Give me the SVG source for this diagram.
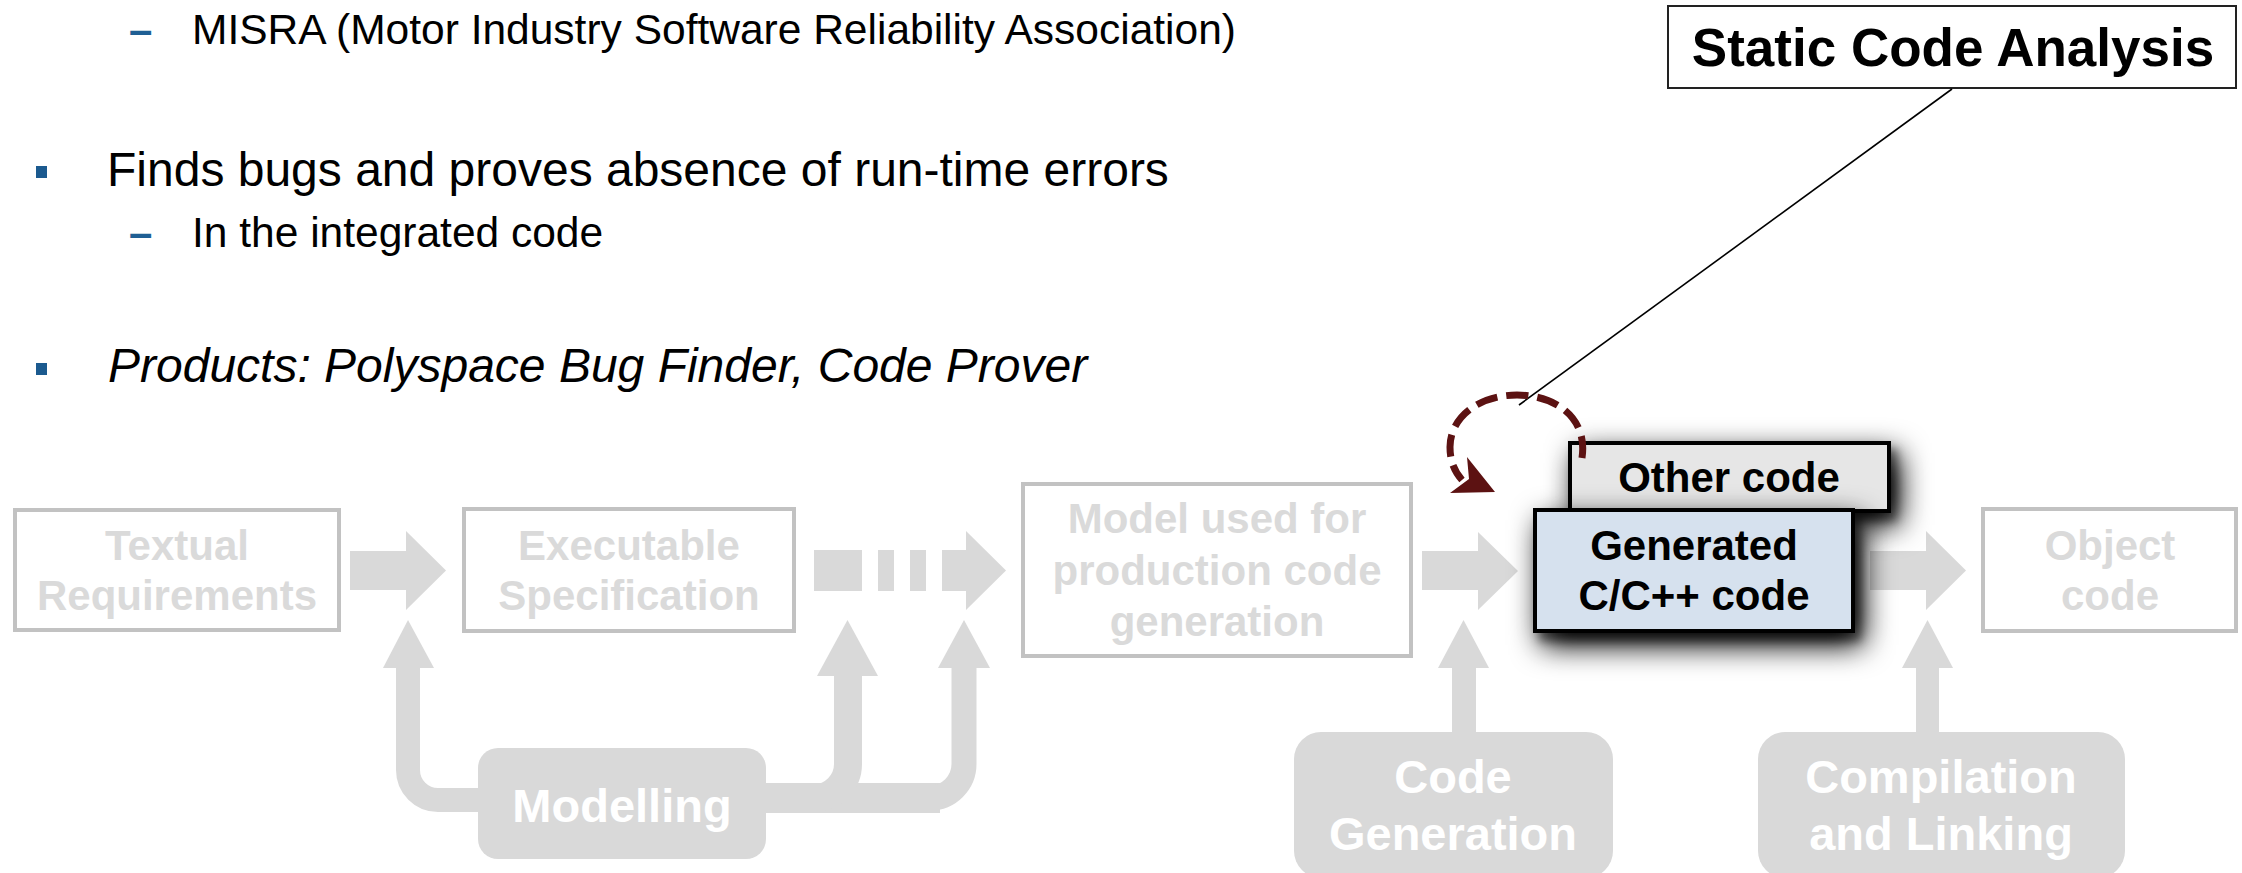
<svg xmlns="http://www.w3.org/2000/svg" width="2242" height="873" viewBox="0 0 2242 873">
  <defs>
    <style>
      .txt { font-family: "Liberation Sans", Arial, sans-serif; fill: #000; }
      .dash { font-family: "Liberation Sans", Arial, sans-serif; fill: #1f5f94; font-size: 42px; font-weight: bold; }
      .bul { fill: #1b5a8f; }
      .gbox { fill: #fff; stroke: #c2c2c2; stroke-width: 4; }
      .gtxt { font-family: "Liberation Sans", Arial, sans-serif; font-weight: bold; font-size: 42px; fill: #dadada; text-anchor: middle; }
      .fbox { fill: #d9d9d9; }
      .wtxt { font-family: "Liberation Sans", Arial, sans-serif; font-weight: bold; font-size: 47px; fill: #fff; text-anchor: middle; }
      .btxt { font-family: "Liberation Sans", Arial, sans-serif; font-weight: bold; font-size: 42px; fill: #000; text-anchor: middle; }
      .arw { fill: #d9d9d9; }
      .band { fill: none; stroke: #d9d9d9; }
    </style>
    <!-- soft drop shadow for the highlighted code boxes -->
    <filter id="shadow" x="-40%" y="-80%" width="190%" height="280%">
      <feGaussianBlur in="SourceAlpha" stdDeviation="15" result="wide"/>
      <feOffset in="wide" dx="8" dy="12" result="wideOff"/>
      <feComponentTransfer in="wideOff" result="wideA"><feFuncA type="linear" slope="1.1"/></feComponentTransfer>
      <feGaussianBlur in="SourceAlpha" stdDeviation="5" result="near"/>
      <feOffset in="near" dx="6" dy="8" result="nearOff"/>
      <feComponentTransfer in="nearOff" result="nearA"><feFuncA type="linear" slope="0.45"/></feComponentTransfer>
      <feMerge><feMergeNode in="wideA"/><feMergeNode in="nearA"/><feMergeNode in="SourceGraphic"/></feMerge>
    </filter>
  </defs>

  <!-- bullet text -->
  <g id="bullets">
    <text class="dash" x="129" y="44">–</text>
    <text class="txt" x="192" y="44" font-size="42.5">MISRA (Motor Industry Software Reliability Association)</text>
    <rect class="bul" x="36" y="166" width="11" height="12"/>
    <text class="txt" x="107" y="186" font-size="48">Finds bugs and proves absence of run-time errors</text>
    <text class="dash" x="129" y="247">–</text>
    <text class="txt" x="192" y="247" font-size="42.5">In the integrated code</text>
    <rect class="bul" x="36" y="363" width="11" height="12"/>
    <text class="txt" x="108" y="382" font-size="48" font-style="italic">Products: Polyspace Bug Finder, Code Prover</text>
  </g>

  <!-- connectors -->
  <g id="connectors">
    <!-- horizontal flow arrows -->
    <polygon class="arw" points="350,551 406,551 406,531 446,570.5 406,610 406,590 350,590"/>
    <rect class="arw" x="814" y="550" width="48" height="41"/>
    <rect class="arw" x="878" y="550" width="16" height="41"/>
    <rect class="arw" x="910" y="550" width="16" height="41"/>
    <polygon class="arw" points="942,550 966,550 966,531 1006,570.5 966,610 966,591 942,591"/>
    <polygon class="arw" points="1422,551 1478,551 1478,532 1518,571 1478,610 1478,590 1422,590"/>
    <polygon class="arw" points="1870,551 1926,551 1926,531 1966,570.5 1926,610 1926,590 1870,590"/>

    <!-- modelling feedback arrows -->
    <path class="band" stroke-width="24" d="M 480 800 H 438 A 30 30 0 0 1 408 770 V 660"/>
    <polygon class="arw" points="408,620 434,668 383,668"/>
    <path class="band" stroke-width="30" d="M 764 798 H 940"/>
    <path class="band" stroke-width="28" d="M 790 798 H 814 A 34 34 0 0 0 848 764 V 670"/>
    <polygon class="arw" points="847.5,620 878,676 817,676"/>
    <path class="band" stroke-width="25" d="M 920 798 H 930 A 34 34 0 0 0 964 764 V 662"/>
    <polygon class="arw" points="964,620 990,668 938,668"/>

    <!-- code generation / compilation arrows -->
    <rect class="arw" x="1452" y="660" width="24" height="76"/>
    <polygon class="arw" points="1463.5,620 1489,668 1438,668"/>
    <rect class="arw" x="1916" y="660" width="23" height="76"/>
    <polygon class="arw" points="1927.5,620 1953,668 1902,668"/>
  </g>

  <!-- pipeline boxes -->
  <g id="textual-requirements">
    <rect class="gbox" x="15" y="510" width="324" height="120"/>
    <text class="gtxt" x="177" y="560">Textual</text>
    <text class="gtxt" x="177" y="610">Requirements</text>
  </g>
  <g id="executable-specification">
    <rect class="gbox" x="464" y="509" width="330" height="122"/>
    <text class="gtxt" x="629" y="560">Executable</text>
    <text class="gtxt" x="629" y="610">Specification</text>
  </g>
  <g id="production-model">
    <rect class="gbox" x="1023" y="484" width="388" height="172"/>
    <text class="gtxt" x="1217" y="533">Model used for</text>
    <text class="gtxt" x="1217" y="585">production code</text>
    <text class="gtxt" x="1217" y="636">generation</text>
  </g>
  <g id="object-code">
    <rect class="gbox" x="1983" y="509" width="253" height="122"/>
    <text class="gtxt" x="2110" y="560">Object</text>
    <text class="gtxt" x="2110" y="610">code</text>
  </g>

  <g id="modelling">
    <rect class="fbox" x="478" y="748" width="288" height="111" rx="20"/>
    <text class="wtxt" x="622" y="822">Modelling</text>
  </g>
  <g id="code-generation">
    <rect class="fbox" x="1294" y="732" width="319" height="146" rx="27"/>
    <text class="wtxt" x="1453" y="793">Code</text>
    <text class="wtxt" x="1453" y="850">Generation</text>
  </g>
  <g id="compilation-linking">
    <rect class="fbox" x="1758" y="732" width="367" height="146" rx="27"/>
    <text class="wtxt" x="1941" y="793">Compilation</text>
    <text class="wtxt" x="1941" y="850">and Linking</text>
  </g>

  <g id="other-code">
    <rect x="1570" y="443" width="319" height="68" fill="#e6e6e6" stroke="#000" stroke-width="4" filter="url(#shadow)"/>
    <text class="btxt" x="1729" y="492">Other code</text>
  </g>
  <g id="generated-code">
    <rect x="1535" y="510" width="318" height="121" fill="#d6e1ee" stroke="#000" stroke-width="4" filter="url(#shadow)"/>
    <text class="btxt" x="1694" y="560">Generated</text>
    <text class="btxt" x="1694" y="610">C/C++ code</text>
  </g>

  <!-- static analysis callout -->
  <g id="static-code-analysis">
    <rect x="1668" y="6" width="568" height="82" fill="#fff" stroke="#222" stroke-width="2"/>
    <text class="txt" x="1953" y="66" font-size="53" font-weight="bold" text-anchor="middle">Static Code Analysis</text>
  </g>
  <g id="analysis-loop">
    <line x1="1952" y1="89" x2="1519" y2="405" stroke="#000" stroke-width="1.6"/>
    <path d="M 1582 458 C 1588 418 1556 395 1517 395 C 1478 395 1450 418 1450 447 C 1450 462 1455 472 1462 480" fill="none" stroke="#5c1212" stroke-width="7" stroke-dasharray="22 9"/>
    <polygon points="1495,492 1450,493 1469,479 1467,457" fill="#5c1212"/>
  </g>
</svg>
